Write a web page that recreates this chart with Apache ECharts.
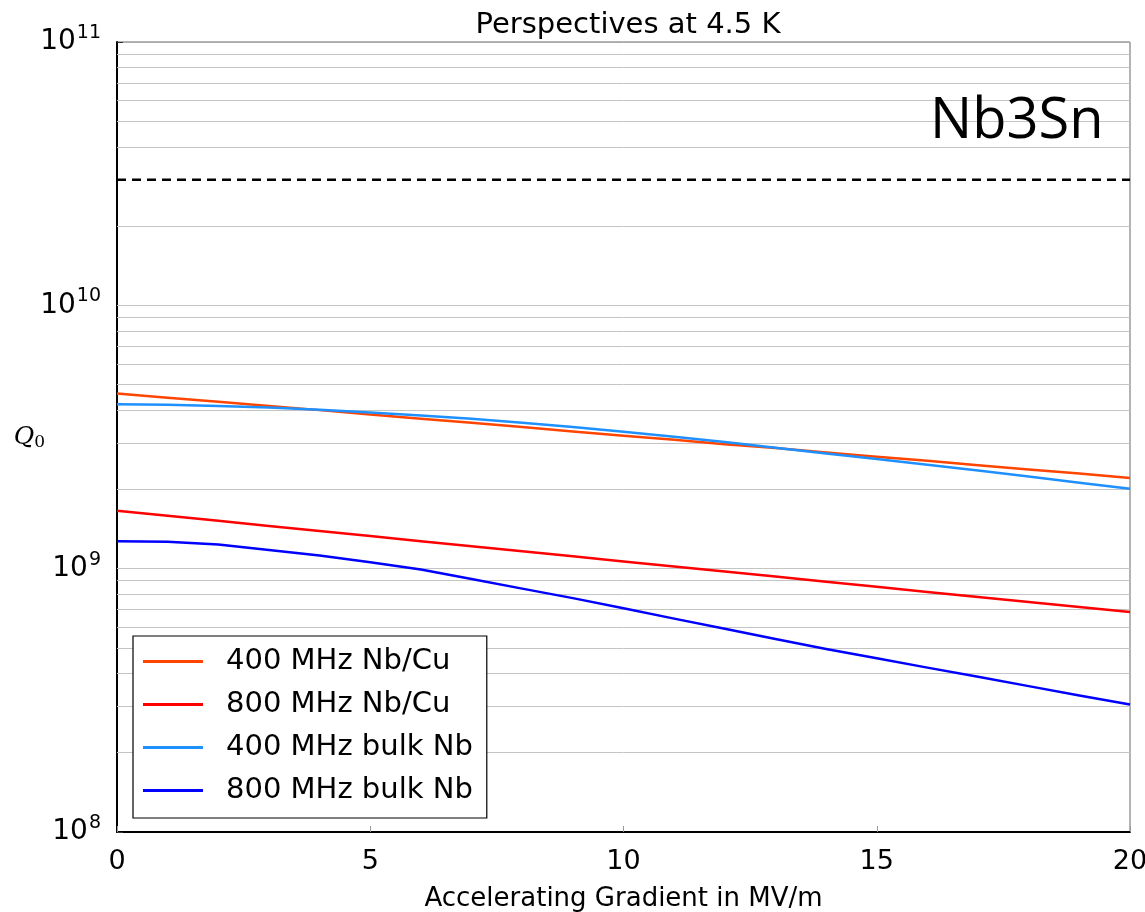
<!DOCTYPE html>
<html>
<head>
<meta charset="utf-8">
<script src="https://cdn.jsdelivr.net/npm/echarts@6/dist/echarts.min.js"></script>
<style>
html,body{margin:0;padding:0;background:#fff;}
#chart{width:1145px;height:912px;}
</style>
</head>
<body>
<div id="chart"></div>
<script>
const gradient = [0, 1, 2, 3, 4, 5, 6, 7, 8, 9, 10, 11, 12, 13, 14, 15, 16, 17, 18, 19, 20];
const nbcu400 = [4.63e9, 4.46e9, 4.30e9, 4.15e9, 4.00e9, 3.85e9, 3.71e9, 3.58e9, 3.45e9, 3.32e9, 3.20e9, 3.09e9, 2.97e9, 2.87e9, 2.76e9, 2.66e9, 2.57e9, 2.47e9, 2.38e9, 2.30e9, 2.21e9];
const nbcu800 = [1.66e9, 1.588e9, 1.519e9, 1.453e9, 1.390e9, 1.330e9, 1.272e9, 1.217e9, 1.164e9, 1.114e9, 1.065e9, 1.019e9, 0.975e9, 0.933e9, 0.892e9, 0.853e9, 0.816e9, 0.781e9, 0.747e9, 0.715e9, 0.684e9];
const bulk400 = [4.21e9, 4.19e9, 4.15e9, 4.09e9, 4.01e9, 3.92e9, 3.82e9, 3.71e9, 3.58e9, 3.45e9, 3.31e9, 3.17e9, 3.03e9, 2.88e9, 2.74e9, 2.61e9, 2.48e9, 2.36e9, 2.24e9, 2.12e9, 2.01e9];
const bulk800 = [1.27e9, 1.265e9, 1.235e9, 1.177e9, 1.122e9, 1.057e9, 0.992e9, 0.913e9, 0.840e9, 0.773e9, 0.707e9, 0.646e9, 0.591e9, 0.541e9, 0.495e9, 0.457e9, 0.421e9, 0.389e9, 0.358e9, 0.330e9, 0.305e9];
const nb3snLevel = 3.0e10;
const seriesNames = ['400 MHz Nb/Cu', '800 MHz Nb/Cu', '400 MHz bulk Nb', '800 MHz bulk Nb'];
const gridValues = [2e8,3e8,4e8,5e8,6e8,7e8,8e8,9e8,1e9,2e9,3e9,4e9,5e9,6e9,7e9,8e9,9e9,1e10,2e10,4e10,5e10,6e10,7e10,8e10,9e10];

const pair = arr => gradient.map((x, i) => [x, arr[i]]);
const colors = ['#ff4500', '#ff0000', '#1e90ff', '#0000ff'];
const dataSets = [nbcu400, nbcu800, bulk400, bulk800];

const chart = echarts.init(document.getElementById('chart'), null, {renderer: 'canvas'});
const series = dataSets.map((d, i) => ({
  name: seriesNames[i],
  type: 'line',
  data: pair(d),
  smooth: false,
  symbol: 'none',
  showSymbol: false,
  lineStyle: {color: colors[i], width: 2.5, join: 'round'},
  itemStyle: {color: colors[i]},
  z: 5
}));
series.unshift({
  name: 'grid',
  type: 'line',
  data: [],
  silent: true,
  z: 1,
  markLine: {
    silent: true,
    symbol: 'none',
    z: 1,
    label: {show: false},
    lineStyle: {color: '#c4c4c4', width: 1, type: 'solid'},
    data: gridValues.map(v => ({yAxis: v}))
  }
});
series.push({
  name: 'Nb3Sn',
  type: 'line',
  data: [[0, nb3snLevel], [20, nb3snLevel]],
  symbol: 'none',
  showSymbol: false,
  lineStyle: {color: '#000', width: 2.5, type: [9, 6]},
  z: 6
});

chart.setOption({
  backgroundColor: '#fff',
  animation: false,
  title: {
    text: 'Perspectives at 4.5 K',
    left: 623, top: 6, textAlign: 'center',
    textStyle: {fontFamily: 'DejaVu Sans', fontWeight: 'normal', fontSize: 29, color: '#000'}
  },
  grid: {left: 117, right: 15, top: 42, bottom: 80, show: true, borderColor: '#666', borderWidth: 1, outerBoundsMode: 'none', containLabel: false},
  legend: {
    data: seriesNames,
    orient: 'vertical',
    left: 133, top: 636,
    z: 50,
    zlevel: 1,
    backgroundColor: '#fff',
    borderColor: '#000', borderWidth: 1.2, borderRadius: 0,
    padding: [10, 14, 12, 10],
    icon: 'rect',
    itemWidth: 60, itemHeight: 3, itemGap: 12,
    textStyle: {fontFamily: 'DejaVu Sans', fontSize: 29, lineHeight: 31, color: '#000', padding: [0, 0, 0, 18]}
  },
  xAxis: {
    type: 'value', min: 0, max: 20, interval: 5,
    name: 'Accelerating Gradient in MV/m',
    nameLocation: 'middle', nameGap: 54,
    nameTextStyle: {fontFamily: 'DejaVu Sans', fontSize: 26, color: '#000'},
    axisLine: {show: true, lineStyle: {color: '#000', width: 2}},
    axisTick: {show: true, inside: true, length: 6, lineStyle: {color: '#999'}},
    axisLabel: {fontFamily: 'DejaVu Sans', fontSize: 27, color: '#000', margin: 16},
    splitLine: {show: false}
  },
  yAxis: {
    type: 'log', logBase: 10, min: 1e8, max: 1e11,
    name: '{q|Q}{sub|0}',
    nameLocation: 'middle', nameRotate: 0, nameGap: 72,
    nameMoveOverlap: false,
    nameTextStyle: {
      rich: {
        q: {fontFamily: 'DejaVu Serif', fontStyle: 'italic', fontSize: 25, color: '#000'},
        sub: {fontFamily: 'DejaVu Serif', fontSize: 17, color: '#000', padding: [12, 0, 0, 0]}
      }
    },
    axisLine: {show: true, lineStyle: {color: '#000', width: 2}},
    axisTick: {show: true, inside: true, length: 6, lineStyle: {color: '#333'}},
    axisLabel: {
      margin: 16,
      formatter: v => '{b|10}{s|' + Math.round(Math.log10(v)) + '}',
      rich: {
        b: {fontFamily: 'DejaVu Sans', fontSize: 28, color: '#000'},
        s: {fontFamily: 'DejaVu Sans', fontSize: 19, color: '#000', padding: [0, 0, 18, 1]}
      }
    },
    splitLine: {show: true, lineStyle: {color: '#aaa', width: 1}}
  },
  graphic: [{
    type: 'text',
    left: 930, top: 94,
    style: {text: 'Nb3Sn', fontFamily: 'Open Sans', fontSize: 56, fill: '#000'},
    z: 10
  }],
  series: series
});
</script>
</body>
</html>
